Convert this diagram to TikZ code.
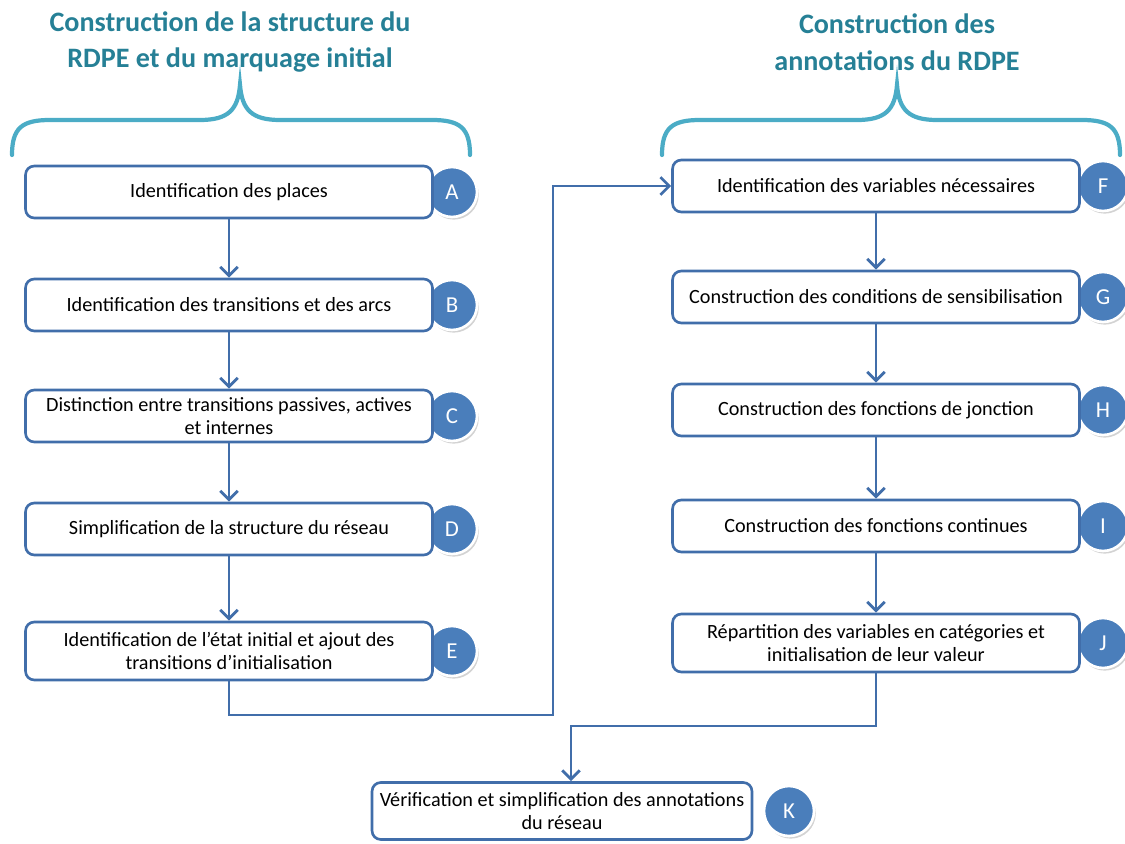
\documentclass[tikz,border=0pt]{standalone}
\usepackage{fontspec}
\setmainfont{Carlito}
\usepackage{tikz}
\usetikzlibrary{positioning, arrows.meta, shadows}
\definecolor{boxblue}{RGB}{65,110,170}
\definecolor{circblue}{RGB}{74,126,187}
\definecolor{bracecol}{RGB}{75,172,198}
\definecolor{titlecol}{RGB}{38,128,150}

\begin{document}
\begin{tikzpicture}[x=0.02cm, y=-0.02cm,
  stepbox/.style={rectangle, draw=boxblue, fill=white, line width=1.5pt,
                  minimum width=8.14cm, minimum height=1.04cm,
                  align=center, font=\fontsize{11.5}{13.2}\selectfont, rounded corners=5pt},
  letter/.style={circle, fill=circblue, draw=white, line width=1.5pt,
                 minimum size=1cm, text=white, font=\fontsize{13}{15}\selectfont,
                 drop shadow={shadow xshift=1pt, shadow yshift=-1.5pt, opacity=0.35}},
  brace/.style={draw=bracecol, line width=2.4pt, line cap=round},
  title/.style={align=center, text=titlecol, font=\fontsize{16}{21}\selectfont\bfseries},
  arr/.style={-{Straight Barb[length=5pt, width=10pt]}, line width=1.6pt, draw=boxblue}
]
\useasboundingbox (0,0) rectangle (1125,844);

% titres et accolades
\node[title] (t1) at (230,42) {Construction de la structure du\\RDPE et du marquage initial};
\node[title] (t2) at (897,42) {Construction des\\annotations du RDPE};

\draw[brace] (12,155) .. controls (12,128) and (22,120) .. (50,120) -- (200,120)
  .. controls (228,120) and (238,110) .. (240,85)
  .. controls (242,110) and (252,120) .. (280,120) -- (432,120)
  .. controls (460,120) and (470,128) .. (470,155);
\draw[brace] (662,155) .. controls (662,128) and (672,120) .. (700,120) -- (857,120)
  .. controls (885,120) and (895,110) .. (897,85)
  .. controls (899,110) and (909,120) .. (937,120) -- (1082,120)
  .. controls (1110,120) and (1120,128) .. (1120,155);

% lettres
\node[letter] (cA) at (452,192) {A};
\node[letter] (cB) at (452,305) {B};
\node[letter] (cC) at (452,416) {C};
\node[letter] (cD) at (452,529) {D};
\node[letter] (cE) at (452,651) {E};
\node[letter] (cF) at (1103,186) {F};
\node[letter] (cG) at (1103,297) {G};
\node[letter] (cH) at (1103,410) {H};
\node[letter] (cI) at (1103,526) {I};
\node[letter] (cJ) at (1103,643) {J};
\node[letter] (cK) at (789,811) {K};

% etapes
\node[stepbox] (A) at (229,192) {Identification des places};
\node[stepbox] (B) at (229,305) {Identification des transitions et des arcs};
\node[stepbox] (C) at (229,416) {Distinction entre transitions passives, actives\\et internes};
\node[stepbox] (D) at (229,529) {Simplification de la structure du réseau};
\node[stepbox, minimum height=1.16cm] (E) at (229,651) {Identification de l’état initial et ajout des\\transitions d’initialisation};
\node[stepbox] (F) at (876,186) {Identification des variables nécessaires};
\node[stepbox] (G) at (876,297) {Construction des conditions de sensibilisation};
\node[stepbox] (H) at (876,410) {Construction des fonctions de jonction};
\node[stepbox] (I) at (876,526) {Construction des fonctions continues};
\node[stepbox, minimum height=1.16cm] (J) at (876,643) {Répartition des variables en catégories et\\initialisation de leur valeur};
\node[stepbox, minimum width=7.6cm, minimum height=1.14cm] (K) at (562,811) {Vérification et simplification des annotations\\du réseau};

\coordinate (ef) at (553,715);
\coordinate (jk) at (571,726);

\draw[arr] (A) -- (B);
\draw[arr] (B) -- (C);
\draw[arr] (C) -- (D);
\draw[arr] (D) -- (E);
\draw[arr] (E.south) |- (ef) |- (F.west);
\draw[arr] (F) -- (G);
\draw[arr] (G) -- (H);
\draw[arr] (H) -- (I);
\draw[arr] (I) -- (J);
\draw[arr] (J.south) |- (jk) -- (jk |- K.north);

\end{tikzpicture}
\end{document}
